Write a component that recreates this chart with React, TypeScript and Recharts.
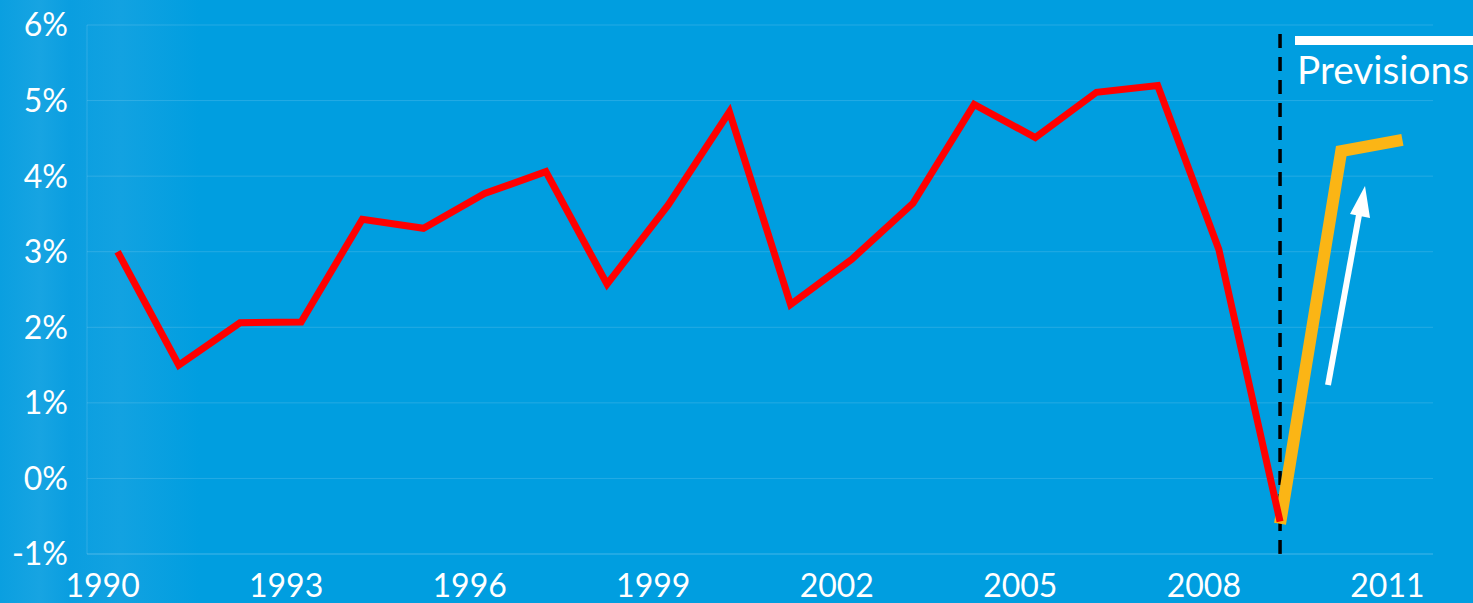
import { LineChart, Line, XAxis, YAxis, CartesianGrid, ReferenceLine } from 'recharts';

const YEARS = [1990, 1991, 1992, 1993, 1994, 1995, 1996, 1997, 1998, 1999, 2000, 2001, 2002, 2003, 2004, 2005, 2006, 2007, 2008, 2009, 2010, 2011];
const GROWTH = [3.0, 1.5, 2.06, 2.07, 3.43, 3.31, 3.77, 4.06, 2.57, 3.62, 4.85, 2.3, 2.9, 3.64, 4.95, 4.51, 5.11, 5.2, 3.03, -0.57, null, null];
const FORECAST = [null, null, null, null, null, null, null, null, null, null, null, null, null, null, null, null, null, null, null, -0.6, 4.33, 4.48];
const X_TICKS = [1990, 1993, 1996, 1999, 2002, 2005, 2008, 2011];
const Y_TICKS = [-1, 0, 1, 2, 3, 4, 5, 6];

const data = YEARS.map((year, i) => ({ year, growth: GROWTH[i], forecast: FORECAST[i] }));

const FONT = 'Lato, "Open Sans", sans-serif';

export default function App() {
    return (
        <div
            style={{
                position: 'absolute',
                top: 0,
                left: 0,
                width: 1473,
                height: 603,
                background: 'linear-gradient(90deg, #0a9fe0 0px, #17a4e2 40px, #0a9ee0 70px, #12a2e1 120px, #009ee0 200px, #009ee0 100%)',
                fontFamily: FONT,
            }}
        >
            <LineChart width={1473} height={603} data={data} margin={{ top: 25, right: 40, left: 0, bottom: 0 }}>
                <CartesianGrid vertical={false} stroke="rgba(255,255,255,0.14)" />
                <XAxis
                    dataKey="year"
                    type="number"
                    domain={[1989.5, 2011.5]}
                    ticks={X_TICKS}
                    height={49}
                    axisLine={{ stroke: 'rgba(255,255,255,0.14)' }}
                    tickLine={false}
                    tickMargin={14}
                    tick={{ fill: '#ffffff', fontSize: 32, fontFamily: FONT, dx: -15 }}
                />
                <YAxis
                    type="number"
                    domain={[-1, 6]}
                    ticks={Y_TICKS}
                    width={87}
                    axisLine={{ stroke: 'rgba(255,255,255,0.14)' }}
                    tickLine={false}
                    tickMargin={13}
                    tickFormatter={(v: number) => `${v}%`}
                    tick={{ fill: '#ffffff', fontSize: 32, fontFamily: FONT }}
                />
                <ReferenceLine x={2009} stroke="#000000" strokeWidth={3.5} strokeDasharray="14 9" />
                <Line
                    dataKey="forecast"
                    stroke="#fbb515"
                    strokeWidth={12}
                    dot={false}
                    connectNulls={false}
                    strokeLinejoin="miter"
                    isAnimationActive={false}
                />
                <Line
                    dataKey="growth"
                    stroke="#ff0000"
                    strokeWidth={7}
                    dot={false}
                    connectNulls={false}
                    strokeLinejoin="miter"
                    isAnimationActive={false}
                />
            </LineChart>
            <svg width={1473} height={603} style={{ position: 'absolute', top: 0, left: 0, pointerEvents: 'none' }}>
                <rect x={1295} y={36} width={178} height={9} fill="#ffffff" />
                <text x={1297} y={84} fill="#ffffff" fontSize={38} fontFamily={FONT} textLength={172} lengthAdjust="spacingAndGlyphs">
                    Previsions
                </text>
                <line x1={1328} y1={385} x2={1359} y2={215} stroke="#ffffff" strokeWidth={6} />
                <polygon points="1365,186 1350,214 1370,218" fill="#ffffff" />
            </svg>
        </div>
    );
}
